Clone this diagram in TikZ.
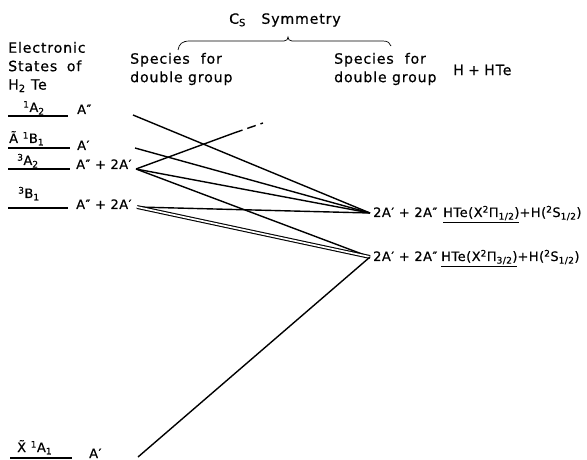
\documentclass[tikz,border=0pt]{standalone}
\usepackage{fontspec}
\setmainfont{DejaVu Sans}[LetterSpace=4,FakeBold=0.6]
\newfontfamily\hdrfont{DejaVu Sans}[LetterSpace=6,FakeBold=0.6]
\begin{document}
\begin{tikzpicture}[x=1bp,y=-1bp,
  txt/.style={inner sep=0pt,font=\fontsize{13}{19}\selectfont},
  lbl/.style={txt,anchor=base west},
  hdr/.style={inner sep=0pt,anchor=west,align=left,font=\hdrfont\fontsize{14.2}{18.5}\selectfont},
  lvl/.style={line width=1.6bp},
  conn/.style={line width=1.4bp},
  dbl/.style={double,double distance=1.7bp,line width=1.1bp},
  brace/.style={line width=0.7bp}]
\useasboundingbox (0,0) rectangle (587,460);

% headers
\node[hdr] (cs) at (229,20) {C\textsubscript{S}\hspace{1.1em}Symmetry};
\node[hdr] (el) at (8,67) {Electronic\\States\hspace{0.3em} of\\H\textsubscript{2} Te};
\node[hdr] (sp1) at (130,69) {Species\hspace{0.4em} for\\double group};
\node[hdr] (sp2) at (334,69) {Species\hspace{0.4em} for\\double group};
\node[hdr] (hh) at (453,70) {H\hspace{0.3em}+\hspace{0.3em}HTe};

% brace
\draw[brace] (178,50) .. controls (179,44) and (182,41) .. (190,41) -- (284,41)
  .. controls (287,41) and (288,39) .. (288,37)
  .. controls (288,39) and (289,41) .. (292,41) -- (383,41)
  .. controls (388,41) and (390,43) .. (391,46);

% levels
\draw[lvl] (8,116) -- (68,116);
\node[lbl] (l1) at (23,112) {\textsuperscript{1}A\textsubscript{2}};
\node[lbl] (s1) at (77,114) {A″};
\draw[lvl] (8,148) -- (70,148);
\node[lbl] (l2) at (9,143) {Ã \textsuperscript{1}B\textsubscript{1}};
\node[lbl] (s2) at (77,150) {A′};
\draw[lvl] (8,169) -- (70,169);
\node[lbl] (l3) at (17,165) {\textsuperscript{3}A\textsubscript{2}};
\node[lbl] (s3) at (76,169) {A″ + 2A′};
\draw[lvl] (8,208) -- (68,208);
\node[lbl] (l4) at (18,198) {\textsuperscript{3}B\textsubscript{1}};
\node[lbl] (s4) at (76,209) {A″ + 2A′};
\draw[lvl] (10,458) -- (72,458);
\node[lbl] (l5) at (17,452) {X̃ \textsuperscript{1}A\textsubscript{1}};
\node[lbl] (s5) at (89,458) {A′};

% connector end points
\coordinate (p1) at (133,115);
\coordinate (p2) at (135,148);
\coordinate (p3) at (136,169);
\coordinate (p4) at (137,207);
\coordinate (p5) at (138,457);
\coordinate (J1) at (370,213);
\coordinate (J2) at (370,257);
\coordinate (d1) at (234,133);
\coordinate (d2) at (263,123);

% connectors
\draw[conn] (p1) -- (J1);
\draw[conn] (p2) -- (J1);
\draw[conn] (p3) -- (J1);
\draw[conn] (p3) -- (J2);
\draw[conn] (p4) -- (J1);
\draw[dbl] (p4) -- (J2);
\draw[conn] (p5) -- (J2);
\draw[conn] (p3) -- (d1);
\draw[conn,dash pattern=on 9bp off 5bp] (d1) -- (d2);

% right labels
\node[lbl] (r1) at (373,217) {2A′ + 2A″};
\node[lbl] (h1) at (443,217) {\underline{HTe(X\textsuperscript{2}Π\textsubscript{1/2})}+H(\textsuperscript{2}S\textsubscript{1/2})};
\node[lbl] (r2) at (373,261) {2A′ + 2A″};
\node[lbl] (h2) at (441,261) {\underline{HTe(X\textsuperscript{2}Π\textsubscript{3/2})}+H(\textsuperscript{2}S\textsubscript{1/2})};
\end{tikzpicture}
\end{document}
